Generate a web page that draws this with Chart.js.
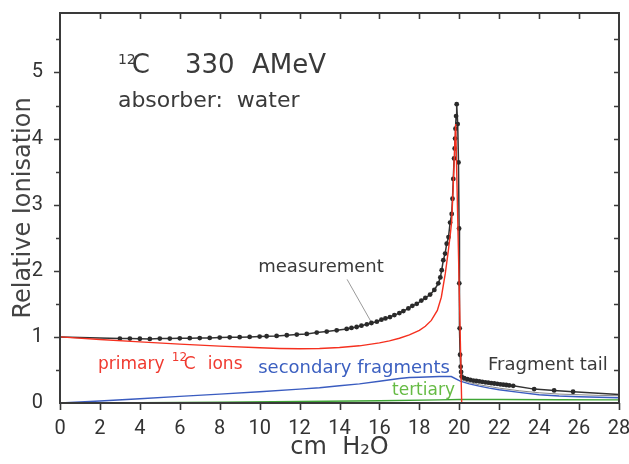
<!DOCTYPE html>
<html>
<head>
<meta charset="utf-8">
<script src="https://cdn.jsdelivr.net/npm/chart.js@4.4.1/dist/chart.umd.min.js"></script>
<style>
  html, body { margin: 0; padding: 0; background: #fff; }
</style>
</head>
<body>
<canvas id="grafico" width="629" height="464"></canvas>
<script>
/* ── Dados (cm H2O × ionização relativa) ────────────────────────── */

// Medição (pontos pretos); o primeiro e o último valor só prolongam a linha
const medidaX = [0, 3, 3.5, 4, 4.5, 5, 5.5, 6, 6.5, 7, 7.5, 8, 8.5, 9, 9.5, 10, 10.35, 10.85, 11.36, 11.86,
  12.36, 12.86, 13.36, 13.86, 14.36, 14.6, 14.86, 15.1, 15.37, 15.6, 15.87, 16.1, 16.3, 16.53, 16.75, 17.0,
  17.2, 17.45, 17.65, 17.87, 18.1, 18.3, 18.54, 18.75, 18.95, 19.05, 19.12, 19.2, 19.29, 19.37, 19.46, 19.54,
  19.62, 19.66, 19.7, 19.74, 19.77, 19.79, 19.81, 19.84, 19.87, 19.92, 19.96, 19.99, 20.0, 20.02, 20.04, 20.07,
  20.09, 20.12, 20.25, 20.4, 20.55, 20.7, 20.85, 21.0, 21.15, 21.3, 21.45, 21.6, 21.75, 21.9, 22.05, 22.2,
  22.35, 22.5, 22.7, 23.75, 24.75, 25.7, 28];
const medidaY = [1.0, 0.975, 0.975, 0.972, 0.97, 0.975, 0.975, 0.978, 0.98, 0.982, 0.985, 0.99, 0.993, 0.996, 1.0, 1.005, 1.01, 1.015, 1.025, 1.035,
  1.045, 1.065, 1.08, 1.1, 1.12, 1.135, 1.15, 1.17, 1.19, 1.21, 1.23, 1.26, 1.28, 1.3, 1.33, 1.36,
  1.39, 1.43, 1.47, 1.5, 1.55, 1.59, 1.64, 1.71, 1.81, 1.9, 2.01, 2.16, 2.26, 2.41, 2.51, 2.73,
  2.86, 3.09, 3.39, 3.7, 3.85, 4.0, 4.15, 4.34, 4.52, 4.22, 3.64, 2.64, 1.81, 1.13, 0.73, 0.55,
  0.47, 0.4, 0.375, 0.36, 0.35, 0.34, 0.333, 0.326, 0.32, 0.313, 0.307, 0.3, 0.295, 0.29, 0.283, 0.277,
  0.272, 0.266, 0.26, 0.21, 0.19, 0.17, 0.13];

// Íons primários de 12C (vermelho)
const primarioX = [0, 2, 4, 6, 8, 10, 11, 12, 13, 14, 15, 16, 16.5, 17, 17.5, 18, 18.3, 18.6, 18.9, 19.1,
  19.3, 19.45, 19.55, 19.62, 19.7, 19.76, 19.82, 20.12];
const primarioY = [1.0, 0.96, 0.925, 0.89, 0.86, 0.835, 0.825, 0.82, 0.825, 0.84, 0.865, 0.91, 0.94, 0.98, 1.03, 1.1, 1.16, 1.25, 1.4, 1.6,
  1.96, 2.3, 2.55, 2.75, 3.3, 3.8, 4.22, 0];

// Fragmentos secundários (azul)
const secundarioX = [0, 2, 4, 6, 8, 10, 12, 13, 14, 15, 16, 17, 17.5, 18, 19, 19.6, 20.05, 20.5, 21, 21.5,
  22, 23, 24, 25, 26, 27, 28];
const secundarioY = [0, 0.03, 0.065, 0.1, 0.135, 0.17, 0.21, 0.23, 0.26, 0.29, 0.33, 0.37, 0.385, 0.39, 0.4, 0.4, 0.33, 0.29, 0.255, 0.225,
  0.2, 0.16, 0.125, 0.105, 0.095, 0.088, 0.08];

// Terciários (verde)
const terciarioX = [0, 4, 8, 12, 16, 19, 20, 22, 25, 28];
const terciarioY = [0, 0.005, 0.012, 0.022, 0.035, 0.048, 0.052, 0.052, 0.05, 0.048];

// Soma calculada na cauda de fragmentos (cinza fino)
const somaCaudaX = [20.05, 20.5, 21, 22, 23, 24, 25, 26, 27, 28];
const somaCaudaY = [0.36, 0.31, 0.275, 0.225, 0.185, 0.155, 0.135, 0.125, 0.115, 0.11];

// Traço que liga o rótulo "measurement" à curva
const guiaX = [14.38, 15.58];
const guiaY = [1.87, 1.23];

// Eixos
const ticksX = [0, 2, 4, 6, 8, 10, 12, 14, 16, 18, 20, 22, 24, 26, 28];
const ticksY = [0, 1, 2, 3, 4, 5];
const marcasY = [0.5, 1, 1.5, 2, 2.5, 3, 3.5, 4, 4.5, 5, 5.5];

/* ── Rótulos de texto (posição em coordenadas de dados) ─────────── */
const CINZA = '#3a3a3a';
const rotulos = [
  { txt: '12', x: 2.9, y: 5.13, tam: 14, cor: CINZA },
  { txt: 'C', x: 3.6, y: 4.99, tam: 26, cor: CINZA },
  { txt: '330', x: 6.26, y: 4.99, tam: 26, cor: CINZA },
  { txt: 'AMeV', x: 9.62, y: 4.99, tam: 26, cor: CINZA },
  { txt: 'absorber:  water', x: 2.9, y: 4.48, tam: 22, cor: CINZA },
  { txt: 'measurement', x: 9.93, y: 1.98, tam: 18, cor: CINZA },
  { txt: 'primary', x: 1.9, y: 0.52, tam: 17, cor: '#f03a30' },
  { txt: '12', x: 5.6, y: 0.63, tam: 12, cor: '#f03a30' },
  { txt: 'C', x: 6.2, y: 0.52, tam: 17, cor: '#f03a30' },
  { txt: 'ions', x: 7.4, y: 0.52, tam: 17, cor: '#f03a30' },
  { txt: 'secondary fragments', x: 9.93, y: 0.46, tam: 18, cor: '#3b5fc0' },
  { txt: 'tertiary', x: 16.63, y: 0.125, tam: 17, cor: '#66bb44' },
  { txt: 'Fragment tail', x: 21.44, y: 0.5, tam: 18, cor: CINZA },
];

const pares = (xs, ys) => xs.map((v, i) => ({ x: v, y: ys[i] }));

/* ── Plugin: moldura com marcas de escala e rótulos ─────────────── */
const moldura = {
  id: 'moldura',
  afterDatasetsDraw(chart) {
    const { ctx, chartArea: a, scales: { x, y } } = chart;
    ctx.save();
    ctx.strokeStyle = CINZA;
    ctx.lineWidth = 1.6;
    ctx.beginPath();
    ticksX.forEach(v => {
      const px = Math.round(x.getPixelForValue(v)) + 0.5;
      ctx.moveTo(px, a.bottom);
      ctx.lineTo(px, a.bottom + 7);
      if (v > 0 && v < 28) {
        ctx.moveTo(px, a.top);
        ctx.lineTo(px, a.top + 6);
      }
    });
    marcasY.forEach(v => {
      const py = Math.round(y.getPixelForValue(v)) + 0.5;
      const comp = Number.isInteger(v) ? 6 : 4;
      ctx.moveTo(a.left - comp, py);
      ctx.lineTo(a.left, py);
      ctx.moveTo(a.right - 5, py);
      ctx.lineTo(a.right, py);
    });
    ctx.stroke();
    ctx.lineWidth = 2;
    ctx.strokeRect(a.left, a.top, a.right - a.left, a.bottom - a.top);

    ctx.textBaseline = 'alphabetic';
    ctx.textAlign = 'left';
    rotulos.forEach(r => {
      ctx.font = `${r.tam}px "DejaVu Sans"`;
      ctx.fillStyle = r.cor;
      ctx.fillText(r.txt, x.getPixelForValue(r.x), y.getPixelForValue(r.y));
    });
    ctx.restore();
  }
};

/* ── Gráfico ────────────────────────────────────────────────────── */
new Chart(document.getElementById('grafico'), {
  type: 'line',
  data: {
    datasets: [
      {
        label: 'primary 12C ions',
        data: pares(primarioX, primarioY),
        borderColor: '#f5301f',
        borderWidth: 1.4,
        pointRadius: 0,
        tension: 0,
      },
      {
        label: 'measurement',
        data: pares(medidaX, medidaY),
        borderColor: '#333',
        borderWidth: 1.5,
        backgroundColor: '#2a2a2a',
        pointBorderWidth: 0,
        pointRadius: c => (c.dataIndex === 0 || c.dataIndex === medidaX.length - 1) ? 0 : 2.4,
        tension: 0,
      },
      {
        label: 'sum',
        data: pares(somaCaudaX, somaCaudaY),
        borderColor: '#8a8a8a',
        borderWidth: 1,
        pointRadius: 0,
        tension: 0,
      },
      {
        label: 'secondary fragments',
        data: pares(secundarioX, secundarioY),
        borderColor: '#3a5cc0',
        borderWidth: 1.4,
        pointRadius: 0,
        tension: 0,
      },
      {
        label: 'tertiary',
        data: pares(terciarioX, terciarioY),
        borderColor: '#3fa535',
        borderWidth: 1.4,
        pointRadius: 0,
        tension: 0,
      },
      {
        label: 'guia',
        data: pares(guiaX, guiaY),
        borderColor: '#9a9a9a',
        borderWidth: 1,
        pointRadius: 0,
      },
    ],
  },
  options: {
    responsive: false,
    animation: false,
    layout: { padding: { top: 13, right: 10, left: 0, bottom: 0 } },
    plugins: { legend: { display: false }, tooltip: { enabled: false } },
    scales: {
      x: {
        type: 'linear',
        min: 0,
        max: 28,
        afterFit(scale) {
          scale.height = 61;
          scale.paddingLeft = 0;
          scale.paddingRight = 0;
        },
        afterBuildTicks(scale) { scale.ticks = ticksX.map(v => ({ value: v })); },
        grid: { display: false },
        border: { display: false },
        ticks: {
          padding: 6,
          color: '#333',
          font: { family: 'Roboto', size: 20 },
          maxRotation: 0,
          autoSkip: false,
        },
        title: {
          display: true,
          text: 'cm  H₂O',
          color: CINZA,
          font: { family: 'DejaVu Sans', size: 24 },
          padding: { top: 0, bottom: 2 },
        },
      },
      y: {
        min: 0,
        max: 5.9,
        afterFit(scale) {
          scale.width = 60;
          scale.paddingTop = 0;
          scale.paddingBottom = 0;
        },
        afterBuildTicks(scale) { scale.ticks = ticksY.map(v => ({ value: v })); },
        grid: { display: false },
        border: { display: false },
        ticks: {
          padding: 9,
          color: '#333',
          font: { family: 'Roboto', size: 20 },
        },
        title: {
          display: true,
          text: 'Relative Ionisation',
          color: '#444',
          font: { family: 'DejaVu Sans', size: 24 },
          padding: { top: 9, bottom: 0 },
        },
      },
    },
  },
  plugins: [moldura],
});
</script>
</body>
</html>
